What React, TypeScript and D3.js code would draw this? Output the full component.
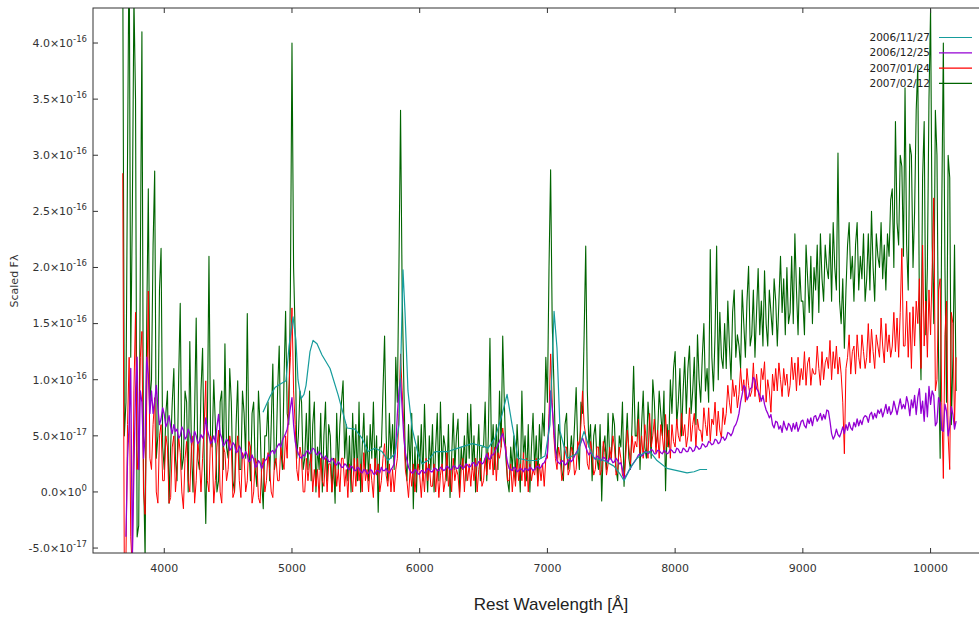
import React from "react";
import * as d3 from "d3";

// ---- Data (flux in units of 1e-17) ----
// Resampled wavelength grid for the three noisy spectra: 3600 Å .. 10200 Å, 12.5 Å bins
const GRID_START = 3600;
const GRID_STEP = 12.5;

// 2007/02/12 (dark green) – one row per 100 Å
const fluxFeb12: (number | null)[] = [
  null, null, null, null, null, null, 47, 5,
  8, 30, 50, 12, 25, 44, 35, -4,
  -3, 20, 41, 2, -6, 15, 27, 8,
  10, 22, 28.6, 3, 5, 18, 21.7, 4,
  2, 7, 9, -1, 4, 8, 11, 3,
  1, 10, 16.8, 2, 3, 9, 8, 0,
  13.4, 4, 0, 7, 15.5, 3, 2, 9,
  12.8, 3, -2.8, 6, 21, 5, 4, 10,
  6, 0, 1, 8, 9, 2, 13.2, 4,
  3, 11, 8, 1, 0, 6, 9.9, 2,
  2, 9, 7, 3, 15.9, 4, 1, 7,
  8, 2, 0.5, 9, 6, 1, -1.5, 5,
  5, 8, 1, 6, 11.4, 2, 3, 9,
  13, 4, 2, 10, 16.1, 7, 6, 18,
  40, 20, 14, 3, 5, 9, 8, 2,
  3, 7, 2, 9, 1, 6, 8, 0,
  4, 2, 7, 0, 5, 8, 1, 6,
  5, 0, 3, -1, 7, 2, 6, 8,
  9.9, 3, 6, 1, 5, 0, 7, 2,
  6, 1, 8, 0, 4, 7, 2, 5,
  1, 6, 3, 8, 2, 5, -1.8, 4,
  4, 9, 13.9, 5, 1, 7, 3, 6,
  2, 12, 8, 20, 34, 18, 10, 3,
  1, 6, 2, 7, -1.5, 4, 0, 5,
  2, 6, 1, 7.8, 3, 0, 5, 2,
  6, 0, 4, 7, 1, 8, 2, 5,
  4, 1, 6, -0.5, 3, 7, 2, 5,
  6.5, 0, 4, 2, 5, 1, 7, 3,
  7.8, 2, 5, 0, 3, 6, 1, 4,
  4, 8, 1, 5, 13.7, 3, 6, 2,
  6, 2, 9, 4, 13.9, 8, 3, 1,
  0, 4, 2, 5, 1, 6, 3, 0,
  9, 3, 5, 1, 6, 0, 4, 7,
  2, 5, 1, 6, 3, 7, 5, 12,
  8, 20, 28.7, 15, 10, 4, 3, 6,
  5, 2, 1, 6, 7, 2, 3, 5,
  3, 6, 9.3, 4, 2, 8, 7, 14,
  21.9, 9, 4, 6, 1, 5, 6, 3,
  2, 6, -0.8, 4, 5, 2, 7, 3,
  3, 7, 6, 2, 1, 5, 4, 8,
  0.5, 4, 7, 3, 2, 6, 11.2, 5,
  5, 8, 2, 6, 9, 4, 3, 8,
  6, 3, 10, 8, 4, 5, 9, 7,
  5, 9, 0.1, 6, 4, 10, 7, 11,
  12.5, 6, 8, 11, 5, 9, 12, 7,
  11, 13, 7, 9, 12, 6, 14, 10,
  8, 12, 15, 9, 11, 8, 21.6, 12,
  9, 14, 21.9, 10, 16, 12, 11, 15,
  11, 17, 13, 10, 16, 18, 12, 14,
  13, 11, 18, 15, 12, 17, 20.1, 13,
  14, 18, 12, 16, 19.9, 14, 17, 13,
  19.7, 15, 13, 18, 16, 14, 19, 17,
  13, 17, 21, 16, 19, 14, 20, 15,
  16, 21, 15, 23, 18, 14, 20, 17,
  17, 14, 22, 19, 16, 21, 15, 20,
  18, 22, 16, 23, 19, 17, 22, 20,
  19, 23, 17, 24, 20, 18, 30.2, 17,
  15, 19, 12.8, 18, 22, 24, 19, 21,
  17, 22, 24, 18, 21, 19, 23, 17,
  19, 23, 18, 25, 20, 17, 23, 21,
  20, 24, 19, 22, 18, 23, 21, 26,
  27, 20, 33, 24, 22, 30, 29, 21,
  36, 22, 18, 31, 30, 20, 25, 34,
  38, 16, 10, 28, 33, 14, 20, 35,
  43, 22, 15, 34, 30, 12, 3, 25,
  40, 20, 8, 30, 28, 6, 12, 22,
  9,
];

// 2007/01/24 (red)
const fluxJan24: (number | null)[] = [
  null, null, null, null, null, null, 28.4, -8,
  -6, 6, 12, -4, -7, 9, 16, 2,
  4, 12, 14.3, 0, -2, 8, 17.9, 3,
  2, 6, 8.4, 0, -1, 5, 6, 1,
  1, 5, 4, -1, -0.5, 4, 5, 0,
  2, 5, 3.5, 0, -1.5, 3, 4.5, 1,
  0, 4, 5, -1, 1, 4.5, 3, 0,
  3, 6, 9.9, 1, 0, 5, 4, -1,
  1, 4, 5.5, 0, -1, 4, 3.5, 1,
  2, 5, 4, -0.5, 0, 3.5, 5, 1,
  -0.5, 3.5, 3, 0, 1, 4.5, 4, -1,
  0, 3, 2.5, -0.5, -1, 2, 3, 0,
  1, 3.5, 2, 0, -0.5, 2.5, 3, 1,
  1, 4, 3, 2, 5, 3, 9, 12,
  16.4, 9, 6, 2, 1, 4, 3, 0,
  0, 3, 1, 2.5, 3.4, 0, 2, 0.5,
  2, -0.5, 3, 1, 0.5, 3, 0, 2.5,
  2.5, 0, 1.5, 3, 0.5, 2, 0, 3,
  3, 0.5, 2, -0.5, 2.5, 1.5, 0, 3,
  0.5, 3, 1, 2.5, 0, 3.5, 1, 2,
  0, 2.5, 1, -0.5, 3, 1.5, 2.5, 0,
  1, 3, 4.3, 1.5, 0.5, 2.5, 0, 2,
  0, 2, 3, 7, 12.3, 9, 6, 2,
  1, -0.5, 2, 0.5, 2.5, 0, 1.5, 2.5,
  1.5, -0.5, 2, 0, 3, 1, 2.5, 0.5,
  0.5, 2.5, 0, 2, -0.5, 1.5, 2.5, 0,
  1, 3.5, 0.5, 2, 0, 3, 1, 2,
  1.5, -0.5, 2, 3, 0, 2.5, 1, 2.5,
  0.5, 2.5, 1, 3, 0, 2, 3, 0.5,
  1, 3, 1.5, 3.5, 2, 4, 1.5, 4,
  1, 3.5, 3, 4, 5.7, 4.5, 4, 1,
  1, 2.5, 0, 2, 0.5, 3, 1, 2.5,
  1, 3.5, 0.5, 3, 0, 2.5, 1, 2,
  1.5, 3, 0.5, 2.5, 1, 2.5, 0.5, 3,
  3, 7, 12.3, 8, 5, 3, 2, 4,
  3, 1, 1.5, 4, 4, 1.5, 2, 4,
  3.5, 1.5, 2, 4.5, 4, 6, 9, 6,
  5, 2.5, 2, 4.5, 3.5, 1.5, 2, 4,
  4, 1.5, 2, 4.5, 3.5, 1.5, 2.5, 4,
  3, 5, 4, 1.5, 2, 4, 3, 1.5,
  1.2, 3, 5.5, 4, 2.5, 5, 3.5, 4.5,
  4, 6.5, 3.5, 5, 3, 6, 4.5, 3,
  7, 4, 5, 6.5, 3.5, 5.5, 3, 6,
  5, 3.5, 6.9, 4, 5.5, 3, 6, 4.5,
  4, 6.5, 5, 4.5, 7, 5, 6, 4,
  5, 7.5, 4.5, 6, 7, 4, 6.5, 5.5,
  5.5, 4.5, 7.5, 6, 5, 7.5, 4.5, 6.5,
  6, 8, 5, 7.2, 5.5, 4.8, 7.5, 6,
  7, 9.5, 8, 7, 10, 8.5, 9.5, 7.5,
  8.7, 11, 9, 10, 8, 11, 9.5, 8.5,
  9, 11.5, 8.5, 10.5, 9, 8, 11, 10,
  11.6, 8, 10, 9, 7.1, 10.5, 9, 11,
  9, 11.5, 10, 8.5, 11, 9.5, 10.5, 8.5,
  9.5, 12, 10, 11.5, 9, 12, 9.5, 11,
  10, 12.5, 9.5, 11.5, 12, 9.5, 11, 10.5,
  10.5, 13, 11, 9.5, 12.5, 10, 11.5, 12,
  11, 13.5, 10, 12.5, 11, 13, 10.5, 12,
  10.5, 8, 3.4, 11, 12, 14, 10.5, 12.5,
  13, 10.5, 14, 12, 11, 14, 12.5, 11,
  12, 15, 11.5, 14.5, 12.5, 11, 14, 13,
  12, 15.5, 13, 11.5, 15, 12.5, 14, 12,
  13, 16, 12.5, 15.5, 12, 16, 21.7, 13,
  13, 17, 12, 16, 11, 16.5, 13, 17,
  15, 19, 11, 22, 13, 17, 12, 18,
  14, 20, 26.2, 9, 10, 18, 19, 8,
  1.2, 14, 17, 5, 2, 16, 15, 6,
  12,
];

// 2006/12/25 (violet)
const fluxDec25: (number | null)[] = [
  null, null, null, null, null, null, null, null,
  -4, 3, 6, 11, -6, 2, 9, 12,
  2, 9, 8, 3, 5, 12, 10.5, 7,
  9, 7, 8, 9.5, 7.5, 6, 6.5, 7.5,
  6.9, 5.8, 6.2, 6.8, 5.8, 5.2, 6.0, 5.4,
  5.6, 4.8, 5.0, 5.8, 5.5, 4.7, 4.9, 5.6,
  5.2, 4.4, 4.6, 5.4, 5.0, 4.3, 4.5, 5.1,
  4.8, 5.2, 6.6, 5.5, 5.0, 4.3, 4.5, 5.0,
  4.4, 5.8, 6.9, 5.2, 4.8, 4.1, 4.3, 4.7,
  4.5, 3.7, 3.9, 4.4, 4.2, 3.5, 3.6, 4.1,
  3.8, 3.0, 3.2, 3.6, 3.3, 2.7, 2.8, 3.3,
  2.9, 2.2, 2.3, 2.8, 2.6, 2.1, 2.4, 2.8,
  2.9, 3.3, 3.2, 3.6, 3.7, 3.4, 3.8, 4.1,
  4.3, 4.0, 4.6, 4.9, 5.2, 5.6, 6.5, 7.5,
  8.4, 6.0, 4.5, 3.8, 3.4, 3.1, 3.0, 3.3,
  3.2, 3.6, 3.7, 3.4, 3.6, 3.9, 3.8, 3.4,
  3.3, 3.6, 3.4, 3.1, 2.9, 3.2, 3.0, 2.7,
  2.7, 3.0, 2.8, 2.5, 2.4, 2.7, 2.5, 2.2,
  2.2, 2.5, 2.4, 2.1, 2.0, 2.3, 2.2, 1.9,
  1.9, 2.2, 2.1, 1.8, 1.7, 2.0, 1.9, 1.6,
  1.7, 2.0, 1.9, 1.6, 1.6, 1.9, 1.9, 1.7,
  2.2, 1.9, 1.9, 2.1, 1.8, 1.7, 2.0, 2.2,
  2.5, 4.0, 6.9, 9.0, 10.1, 7.5, 5, 3.5,
  2.8, 2.2, 1.9, 1.7, 1.7, 2.0, 1.9, 1.6,
  1.6, 1.9, 1.9, 1.7, 1.8, 2.1, 2.0, 1.8,
  1.8, 2.1, 2.1, 1.9, 1.9, 2.2, 2.1, 1.9,
  2.0, 2.3, 2.2, 2.0, 2.0, 2.3, 2.3, 2.1,
  2.1, 2.4, 2.3, 2.1, 2.2, 2.5, 2.4, 2.2,
  2.3, 2.6, 2.6, 2.3, 2.4, 2.7, 2.7, 2.5,
  2.6, 3.0, 3.4, 3.0, 2.9, 3.3, 3.3, 3.6,
  3.9, 4.2, 4.5, 4.9, 5.2, 4.4, 3.5, 2.6,
  2.1, 2.0, 1.9, 2.2, 2.1, 1.8, 1.9, 2.1,
  2.0, 1.8, 2.1, 2.0, 1.9, 2.2, 2.1, 1.9,
  2.0, 2.2, 2.3, 2.1, 2.2, 2.5, 2.6, 2.9,
  3.5, 6.0, 9.0, 7.5, 5.7, 3.8, 2.8, 2.6,
  2.5, 2.8, 2.7, 2.4, 2.5, 2.8, 2.9, 2.7,
  2.9, 3.2, 3.5, 3.7, 4.0, 4.4, 4.8, 4.4,
  4.0, 3.6, 3.3, 3.5, 3.4, 3.1, 2.9, 3.2,
  3.1, 2.9, 2.8, 3.1, 3.0, 2.8, 2.7, 3.0,
  2.9, 2.6, 2.7, 3.0, 2.8, 2.5, 2.6, 2.0,
  1.2, 1.4, 1.6, 1.9, 2.1, 2.4, 2.6, 2.8,
  3.0, 3.3, 3.4, 3.2, 3.3, 3.6, 3.6, 3.4,
  3.5, 3.8, 3.7, 3.4, 3.4, 3.7, 3.7, 3.5,
  3.4, 3.7, 3.6, 3.4, 3.5, 3.8, 3.7, 3.5,
  3.5, 3.9, 3.8, 3.5, 3.5, 3.9, 3.8, 3.6,
  3.6, 4.0, 3.9, 3.6, 3.7, 4.1, 4.0, 3.8,
  3.9, 4.3, 4.2, 4.0, 4.1, 4.5, 4.4, 4.2,
  4.3, 4.7, 4.6, 4.3, 4.4, 4.8, 4.9, 4.6,
  4.8, 5.3, 5.2, 5.0, 5.3, 5.8, 6.0, 6.4,
  7.0, 8.0, 8.7, 9.5, 9.3, 8.2, 8.5, 9.2,
  9.3, 10.2, 10.0, 9.2, 9.0, 8.6, 8.1, 8.6,
  7.8, 7.3, 7.0, 6.6, 6.9, 6.0, 5.7, 6.3,
  6.2, 5.6, 5.9, 5.3, 6.3, 5.8, 5.5, 6.1,
  5.9, 5.4, 6.1, 5.6, 6.2, 5.4, 5.8, 6.3,
  6.4, 5.9, 5.7, 6.5, 6.1, 6.6, 5.9, 6.7,
  6.8, 6.3, 6.6, 7.0, 6.4, 6.9, 6.5, 7.3,
  7.2, 6.3, 5.2, 4.7, 5.0, 5.6, 5.1, 4.9,
  5.3, 5.8, 5.2, 6.0, 5.5, 6.2, 5.7, 5.5,
  6.2, 5.8, 6.5, 5.9, 6.4, 6.0, 6.6, 6.8,
  6.7, 6.2, 6.9, 7.1, 6.5, 7.0, 6.6, 7.3,
  7.0, 7.4, 6.7, 7.2, 7.8, 7.0, 7.6, 6.9,
  7.2, 8.1, 7.5, 6.9, 7.6, 8.3, 7.4, 7.8,
  7.4, 8.5, 7.9, 6.8, 8.2, 7.5, 8.6, 6.9,
  8.4, 9.2, 7.0, 8.1, 6.3, 8.8, 6.7, 9.4,
  7.8, 9.0, 8.6, 5.9, 6.2, 8.4, 7.9, 5.5,
  5.4, 7.8, 7.2, 5.0, 5.8, 7.6, 6.9, 5.6,
  6.3,
];

// 2006/11/27 (teal) – smooth spectrum, own wavelength sampling
const waveNov27 = [
  4773, 4828, 4867, 4906, 4953, 4977, 5008, 5031, 5047, 5071, 5094, 5110, 5141, 5165,
  5196, 5235, 5298, 5360, 5431, 5493, 5548, 5595, 5650, 5705, 5752, 5806, 5838, 5853,
  5869, 5885, 5908, 5940, 5987, 6018, 6065, 6120, 6222, 6300, 6410, 6488, 6535, 6590,
  6645, 6684, 6723, 6770, 6848, 6919, 6981, 7020, 7052, 7075, 7099, 7154, 7232, 7287,
  7326, 7365, 7443, 7521, 7568, 7600, 7647, 7701, 7756, 7803, 7858, 7936, 8015, 8093,
  8148, 8195, 8250,
];
const fluxNov27 = [
  7.1, 8.5, 9.3, 9.6, 9.9, 13, 15.6, 13.5, 10, 8.3, 8.7, 9.5, 12.5, 13.5,
  13.2, 12.2, 11.0, 8.7, 5.7, 5.6, 4.8, 3.6, 3.9, 3.6, 2.8, 3.4, 6, 12,
  19.8, 16, 9, 5.7, 3.4, 2.5, 2.8, 3.6, 3.6, 3.9, 4.3, 4.1, 3.9, 4.8,
  6.9, 8.7, 6.0, 3.0, 2.8, 2.8, 3.2, 6, 16.1, 12.8, 5.4, 3.0, 3.4, 5.4,
  4.0, 3.0, 2.8, 2.3, 1.6, 1.0, 2.1, 3.0, 3.5, 3.6, 2.8, 2.1, 1.9, 1.7,
  1.8, 2.0, 2.0,
];

const seriesNames = ["2006/11/27", "2006/12/25", "2007/01/24", "2007/02/12"];
const seriesColors = ["#169c9c", "#9400d3", "#ff0000", "#006400"];

const xTicks = [4000, 5000, 6000, 7000, 8000, 9000, 10000];
const yTicks = [-5, 0, 5, 10, 15, 20, 25, 30, 35, 40];
const yTickMantissa = ["-5.0", "0.0", "5.0", "1.0", "1.5", "2.0", "2.5", "3.0", "3.5", "4.0"];
const yTickExponent = ["-17", "0", "-17", "-16", "-16", "-16", "-16", "-16", "-16", "-16"];

const xLabel = "Rest Wavelength [Å]";
const yLabel = "Scaled Fλ";

// ---- Layout ----
const W = 979;
const H = 617;
const M = { left: 93, top: 8, right: 980, bottom: 553 };

export default function App() {
  const x = d3.scaleLinear().domain([3442, 10387]).range([M.left, M.right]);
  const y = d3.scaleLinear().domain([-5.44, 43.12]).range([M.bottom, M.top]);

  const gridPoints = (vals: (number | null)[]) =>
    vals.map((v, i) => ({ w: GRID_START + GRID_STEP * i, v }));

  const line = d3
    .line<{ w: number; v: number | null }>()
    .defined((d) => d.v !== null)
    .x((d) => x(d.w))
    .y((d) => y(d.v as number));

  const tealPts = waveNov27.map((w, i) => ({ w, v: fluxNov27[i] }));

  const paths = [
    { d: line(gridPoints(fluxFeb12)), c: seriesColors[3], w: 1.1 },
    { d: line(gridPoints(fluxJan24)), c: seriesColors[2], w: 1.0 },
    { d: line(gridPoints(fluxDec25)), c: seriesColors[1], w: 1.3 },
    { d: line(tealPts), c: seriesColors[0], w: 1.2 },
  ];

  const axisColor = "#333";
  const tickFont = "'DejaVu Sans', Verdana, sans-serif";

  return (
    <svg width={W} height={H} style={{ position: "absolute", left: 0, top: 0, background: "#fff" }}>
      <defs>
        <clipPath id="plotclip">
          <rect x={M.left} y={M.top} width={M.right - M.left} height={M.bottom - M.top} />
        </clipPath>
      </defs>
      <rect x={0} y={0} width={W} height={H} fill="#fff" />

      <g clipPath="url(#plotclip)" fill="none" strokeLinejoin="round">
        {paths.map((p, i) => (
          <path key={i} d={p.d || ""} stroke={p.c} strokeWidth={p.w} />
        ))}
      </g>

      {/* frame */}
      <rect
        x={M.left}
        y={M.top}
        width={M.right - M.left}
        height={M.bottom - M.top}
        fill="none"
        stroke={axisColor}
        strokeWidth={1}
      />

      {/* y ticks */}
      {yTicks.map((t, i) => (
        <g key={"y" + i}>
          <line x1={M.left} x2={M.left + 5} y1={y(t)} y2={y(t)} stroke={axisColor} />
          <text
            x={87}
            y={y(t)}
            dy="0.35em"
            textAnchor="end"
            fontFamily={tickFont}
            fontSize={11}
            fill="#333"
          >
            {yTickMantissa[i]}×10
            <tspan dy={-5} fontSize={8.5}>
              {yTickExponent[i]}
            </tspan>
          </text>
        </g>
      ))}

      {/* x ticks */}
      {xTicks.map((t, i) => (
        <g key={"x" + i}>
          <line x1={x(t)} x2={x(t)} y1={M.bottom} y2={M.bottom - 5} stroke={axisColor} />
          <line x1={x(t)} x2={x(t)} y1={M.top} y2={M.top + 5} stroke={axisColor} />
          <text
            x={x(t)}
            y={572}
            textAnchor="middle"
            fontFamily={tickFont}
            fontSize={11}
            fill="#333"
          >
            {t}
          </text>
        </g>
      ))}

      {/* axis labels */}
      <text
        x={551}
        y={610}
        textAnchor="middle"
        fontFamily="'Liberation Sans', Arial, sans-serif"
        fontSize={17}
        fill="#222"
      >
        {xLabel}
      </text>
      <text
        transform={`translate(18, 281) rotate(-90)`}
        textAnchor="middle"
        fontFamily={tickFont}
        fontSize={11}
        fill="#333"
      >
        {yLabel}
      </text>

      {/* legend */}
      {seriesNames.map((n, i) => {
        const ly = 37.5 + i * 15.3;
        return (
          <g key={"l" + i}>
            <text
              x={930}
              y={ly}
              dy="0.35em"
              textAnchor="end"
              fontFamily={tickFont}
              fontSize={10.5}
              fill="#222"
            >
              {n}
            </text>
            <line x1={939} x2={972} y1={ly} y2={ly} stroke={seriesColors[i]} strokeWidth={1.2} />
          </g>
        );
      })}
    </svg>
  );
}
